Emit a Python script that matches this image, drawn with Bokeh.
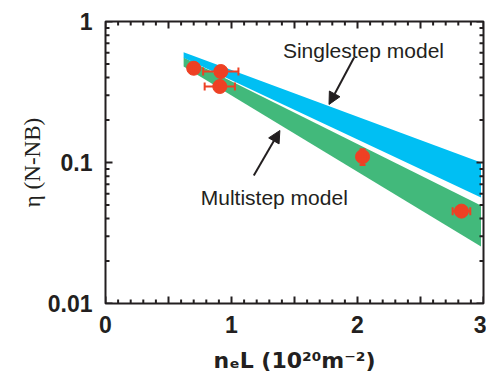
from bokeh.plotting import figure
from bokeh.models import (FixedTicker, Arrow, NormalHead, Whisker, TeeHead,
                          ColumnDataSource, Range1d)
from bokeh.core.properties import value
from bokeh.embed import file_html
from bokeh.resources import INLINE

# ---- data ----
band_x = [0.62, 2.98]
single_hi = [0.605, 0.100]
single_lo = [0.553, 0.0565]
multi_hi = [0.556, 0.0495]
multi_lo = [0.480, 0.0254]

pt_x = [0.70, 0.915, 0.907, 2.04, 2.825]
pt_y = [0.466, 0.442, 0.346, 0.110, 0.0452]
pt_xerr = [0.03, 0.14, 0.12, 0.04, 0.07]
pt_yerr = [0.03, 0.02, 0.02, 0.014, 0.003]

x_lo, x_hi = 0, 3
y_lo, y_hi = 0.01, 1
x_ticks = [0, 0.5, 1, 1.5, 2, 2.5, 3]
x_tick_labels = ["0", "", "1", "", "2", "", "3"]
x_minor = [i / 10 for i in range(31) if i % 5 != 0]
y_ticks = [0.01, 0.1, 1]
y_tick_labels = ["0.01", "0.1", "1"]
y_minor = [m * 0.01 for m in range(2, 10)] + [m * 0.1 for m in range(2, 10)]

ann_text = ["Singlestep model", "Multistep model"]
ann_x = [1.408, 0.756]
ann_y = [0.623, 0.0565]

# arrows: x_start, y_start, x_end, y_end
arrow_single = [1.973, 0.556, 1.774, 0.258]
arrow_multi = [1.177, 0.0809, 1.384, 0.1686]

BLUE = "#00BFF3"
GREEN = "#42B97B"
RED = "#EE4124"
INK = "#231F20"

# frame geometry (pixels) used to turn tick lengths into data offsets
PX_PER_X = 126.0
PX_PER_DECADE = 141.0
TICK_MAJOR = 7
TICK_MINOR = 4

p = figure(width=486, height=377, y_axis_type="log",
           x_range=Range1d(x_lo, x_hi), y_range=Range1d(y_lo, y_hi),
           output_backend="svg", toolbar_location=None,
           min_border_left=105, min_border_top=21, min_border_bottom=74,
           min_border_right=3)
p.background_fill_color = "white"
p.border_fill_color = "white"
p.grid.visible = False
p.outline_line_color = INK
p.outline_line_width = 2

p.varea(x=band_x, y1=multi_lo, y2=multi_hi, fill_color=GREEN)
p.varea(x=band_x, y1=single_lo, y2=single_hi, fill_color=BLUE)

src = ColumnDataSource(dict(
    x=pt_x, y=pt_y,
    xl=[a - b for a, b in zip(pt_x, pt_xerr)],
    xu=[a + b for a, b in zip(pt_x, pt_xerr)],
    yl=[a - b for a, b in zip(pt_y, pt_yerr)],
    yu=[a + b for a, b in zip(pt_y, pt_yerr)],
))
wx = Whisker(base="y", lower="xl", upper="xu", dimension="width", source=src,
             line_color=RED, line_width=2, level="overlay",
             upper_head=TeeHead(size=8, line_color=RED, line_width=2),
             lower_head=TeeHead(size=8, line_color=RED, line_width=2))
wy = Whisker(base="x", lower="yl", upper="yu", dimension="height", source=src,
             line_color=RED, line_width=2, level="overlay",
             upper_head=TeeHead(size=6, line_color=RED, line_width=2),
             lower_head=TeeHead(size=6, line_color=RED, line_width=2))
p.add_layout(wx)
p.add_layout(wy)
p.scatter("x", "y", source=src, size=14, fill_color=RED, line_color=RED)

p.text(x=ann_x, y=ann_y, text=ann_text, text_font=value("Liberation Sans"),
       text_font_size="21px", text_color=INK, text_baseline="alphabetic",
       text_align="left")

for a in (arrow_single, arrow_multi):
    p.add_layout(Arrow(x_start=a[0], y_start=a[1], x_end=a[2], y_end=a[3],
                       line_color=INK, line_width=2,
                       end=NormalHead(size=12, fill_color=INK, line_color=INK)))

# inward ticks on all four sides, drawn as head-less whiskers
vb, vl, vu = [], [], []
for vals, length in ((x_ticks, TICK_MAJOR), (x_minor, TICK_MINOR)):
    f = 10 ** (length / PX_PER_DECADE)
    for v in vals:
        vb += [v, v]
        vl += [y_lo, y_hi / f]
        vu += [y_lo * f, y_hi]
hb, hl, hu = [], [], []
for vals, length in ((y_ticks, TICK_MAJOR), (y_minor, TICK_MINOR)):
    d = length / PX_PER_X
    for v in vals:
        hb += [v, v]
        hl += [x_lo, x_hi - d]
        hu += [x_lo + d, x_hi]

p.add_layout(Whisker(base="b", lower="l", upper="u", dimension="height",
                     source=ColumnDataSource(dict(b=vb, l=vl, u=vu)),
                     line_color=INK, line_width=2, level="overlay",
                     upper_head=None, lower_head=None))
p.add_layout(Whisker(base="b", lower="l", upper="u", dimension="width",
                     source=ColumnDataSource(dict(b=hb, l=hl, u=hu)),
                     line_color=INK, line_width=2, level="overlay",
                     upper_head=None, lower_head=None))

def style(ax):
    ax.axis_line_color = None
    ax.major_tick_line_color = None
    ax.minor_tick_line_color = None
    ax.major_tick_in = 0
    ax.major_tick_out = 0
    ax.minor_tick_in = 0
    ax.minor_tick_out = 0
    ax.major_label_text_font = "Liberation Sans"
    ax.major_label_text_font_style = "bold"
    ax.major_label_text_font_size = "23px"
    ax.major_label_text_color = INK

xa = p.xaxis[0]
xa.ticker = FixedTicker(ticks=x_ticks)
xa.major_label_overrides = {t: l for t, l in zip(x_ticks, x_tick_labels)}
style(xa)
xa.major_label_standoff = 12
xa.axis_label = "nₑL (10²⁰m⁻²)"
xa.axis_label_text_font = "DejaVu Sans"
xa.axis_label_text_font_style = "bold"
xa.axis_label_text_font_size = "22px"
xa.axis_label_text_color = INK
xa.axis_label_standoff = 12

ya = p.yaxis[0]
ya.ticker = FixedTicker(ticks=y_ticks)
ya.major_label_overrides = {t: l for t, l in zip(y_ticks, y_tick_labels)}
style(ya)
ya.major_label_standoff = 13
ya.axis_label = "η (N-NB)"
ya.axis_label_text_font = "Liberation Serif"
ya.axis_label_text_font_style = "normal"
ya.axis_label_text_font_size = "23px"
ya.axis_label_text_color = INK
ya.axis_label_standoff = 0

open("out.html", "w").write(file_html(p, INLINE))
